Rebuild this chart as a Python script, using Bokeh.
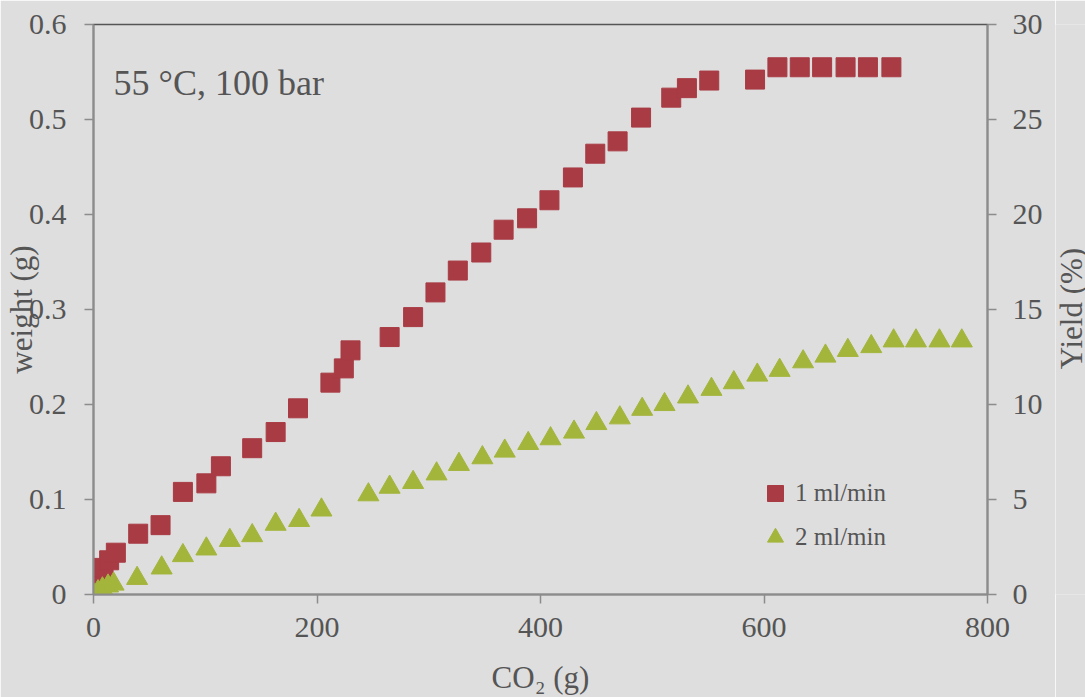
import math
from bokeh.plotting import figure
from bokeh.layouts import row
from bokeh.models import (Range1d, LinearAxis, FixedTicker, Label, Legend, LegendItem,
                          ColumnDataSource)
from bokeh.embed import file_html
from bokeh.resources import INLINE

# --- data -------------------------------------------------------------------
co2_1ml = [0, 1, 5, 9, 14, 20, 40, 60, 80, 101, 114, 142, 163, 183, 212, 224, 230,
           265, 286, 306, 326, 347, 367, 388, 408, 429, 449, 469, 490, 517, 531, 551,
           592, 612, 632, 652, 673, 693, 714]
weight_1ml = [0.0, 0.012, 0.020, 0.028, 0.036, 0.044, 0.064, 0.073, 0.108, 0.117, 0.135,
              0.154, 0.171, 0.196, 0.223, 0.238, 0.257, 0.271, 0.292, 0.318, 0.341, 0.360,
              0.384, 0.396, 0.415, 0.439, 0.464, 0.477, 0.502, 0.523, 0.533, 0.541, 0.542,
              0.555, 0.555, 0.555, 0.555, 0.555, 0.555]

co2_2ml = [0, 4, 8, 13, 18, 39, 61, 80, 101, 122, 142, 163, 184, 204, 246, 265, 286, 307,
           327, 348, 368, 389, 409, 430, 450, 471, 491, 511, 532, 553, 573, 594, 614, 635,
           655, 675, 696, 716, 736, 757, 777]
weight_2ml = [0.0, 0.003, 0.006, 0.009, 0.011, 0.017, 0.028, 0.041, 0.048, 0.057, 0.062,
              0.074, 0.078, 0.089, 0.105, 0.113, 0.118, 0.127, 0.137, 0.144, 0.151, 0.159,
              0.164, 0.171, 0.180, 0.186, 0.195, 0.200, 0.208, 0.216, 0.223, 0.231, 0.236,
              0.245, 0.251, 0.257, 0.261, 0.267, 0.267, 0.267, 0.267]

series_names = ["1 ml/min", "2 ml/min"]

x_ticks = [0, 200, 400, 600, 800]
weight_ticks = [0, 0.1, 0.2, 0.3, 0.4, 0.5, 0.6]
weight_tick_labels = ["0", "0.1", "0.2", "0.3", "0.4", "0.5", "0.6"]
yield_ticks = [0, 5, 10, 15, 20, 25, 30]

x_title = "CO\u2082 (g)"
left_title = "weight (g)"
right_title = "Yield (%)"
condition_text = "55 \u00b0C, 100 bar"

# --- styling ----------------------------------------------------------------
BG = "#dedede"
RED = "#a83b44"
GREEN = "#a4b53c"
TXT = "#555555"
AXIS = "#8c8c8c"
FONT = "Liberation Serif"

MAIN_W, STRIP_W, H = 1055, 30, 697

p = figure(width=MAIN_W, height=H, output_backend="svg", toolbar_location=None,
           x_range=Range1d(0, 800), y_range=Range1d(0, 0.6),
           min_border_left=92, min_border_right=68, min_border_top=24,
           min_border_bottom=103)
p.background_fill_color = BG
p.border_fill_color = BG
p.outline_line_color = "#555555"
p.outline_line_width = 1.5
p.grid.visible = False

p.extra_y_ranges = {"yield": Range1d(0, 30)}

def style_axis(ax, ticks, standoff):
    ax.ticker = FixedTicker(ticks=ticks)
    ax.minor_tick_line_color = None
    ax.axis_line_color = AXIS
    ax.axis_line_width = 2
    ax.major_tick_line_color = AXIS
    ax.major_tick_line_width = 1.5
    ax.major_tick_in = 0
    ax.major_tick_out = 9
    ax.major_label_standoff = standoff
    ax.major_label_text_font = FONT
    ax.major_label_text_font_size = "30px"
    ax.major_label_text_color = TXT

def style_title(ax, title, title_standoff):
    ax.axis_label = title
    ax.axis_label_standoff = title_standoff
    ax.axis_label_text_font = FONT
    ax.axis_label_text_font_size = "31px"
    ax.axis_label_text_font_style = "normal"
    ax.axis_label_text_color = TXT

style_axis(p.xaxis[0], x_ticks, 14)
style_title(p.xaxis[0], x_title, 20)
style_axis(p.yaxis[0], weight_ticks, 18)
style_title(p.yaxis[0], left_title, -13)
p.yaxis[0].major_label_overrides = {t: s for t, s in zip(weight_ticks, weight_tick_labels)}

right = LinearAxis(y_range_name="yield")
style_axis(right, yield_ticks, 16)
p.add_layout(right, "right")

# --- series -----------------------------------------------------------------
src1 = ColumnDataSource(dict(x=co2_1ml, y=weight_1ml))
src2 = ColumnDataSource(dict(x=co2_2ml, y=weight_2ml))
r1 = p.scatter("x", "y", source=src1, marker="square", size=19,
               fill_color=RED, line_color=RED, line_width=1)
r2 = p.scatter("x", "y", source=src2, marker="triangle", size=21,
               fill_color=GREEN, line_color=GREEN, line_width=1)

legend = Legend(items=[LegendItem(label=series_names[0], renderers=[r1]),
                       LegendItem(label=series_names[1], renderers=[r2])],
                location=(662, 37), orientation="vertical",
                glyph_width=40, glyph_height=40, spacing=4, padding=0, margin=0,
                label_standoff=0, label_text_font=FONT, label_text_font_size="25px",
                label_text_color=TXT, background_fill_alpha=0, border_line_color=None)
p.add_layout(legend)

# --- in-plot condition note -------------------------------------------------
p.add_layout(Label(x=20, y=512, x_units="screen", y_units="screen", text=condition_text,
                   text_baseline="alphabetic", text_font=FONT, text_font_size="36px",
                   text_color=TXT))

# --- narrow strip on the right carrying the secondary-axis title ------------
strip = figure(width=STRIP_W, height=H, output_backend="svg", toolbar_location=None,
               x_range=Range1d(0, 1), y_range=Range1d(0, 1),
               min_border=0, min_border_left=0, min_border_right=0,
               min_border_top=0, min_border_bottom=0)
strip.axis.visible = False
strip.grid.visible = False
strip.outline_line_color = None
strip.background_fill_color = BG
strip.border_fill_color = BG
strip.add_layout(Label(x=16, y=286, x_units="screen", y_units="screen", text=right_title,
                       angle=math.pi / 2, text_align="center", text_baseline="alphabetic",
                       text_font=FONT, text_font_size="31px", text_color=TXT))

layout = row(p, strip, spacing=0)
open("out.html", "w").write(file_html(layout, INLINE))
